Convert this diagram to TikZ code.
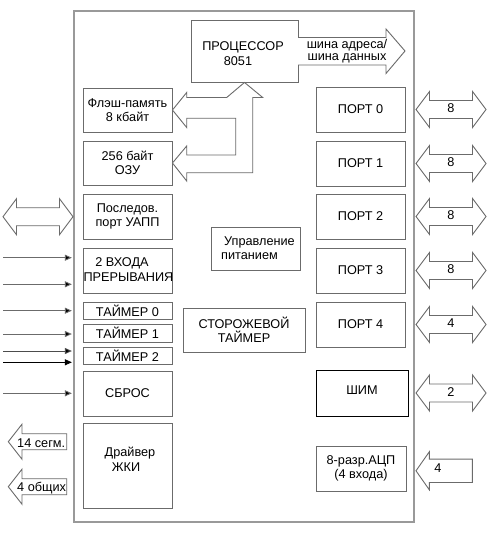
\documentclass[tikz,border=0pt]{standalone}
\usepackage{fontspec}
\setmainfont{Liberation Sans}
\usetikzlibrary{arrows.meta}
\definecolor{edge}{gray}{0.42}
\definecolor{chipedge}{gray}{0.6}
\tikzset{
  txt/.style={font=\fontsize{12.7}{14.5}\selectfont, inner sep=0pt, align=center},
  box/.style={txt, draw=edge, line width=0.9pt, fill=white},
  fat/.style={draw=edge, line width=0.9pt, fill=white, line join=miter},
  inline/.style={draw=edge, line width=0.9pt, -{Triangle[length=7pt,width=6pt,fill=black]}, shorten >=1.5pt},
  dblarrow/.pic={\draw[fat] (-35,0) -- (-21.5,-18) -- (-21.5,-9) -- (21.5,-9) -- (21.5,-18) -- (35,0) -- (21.5,18) -- (21.5,9) -- (-21.5,9) -- (-21.5,18) -- cycle;}
}
\begin{document}
\begin{tikzpicture}[x=1pt,y=-1pt]
\useasboundingbox (0,0) rectangle (491,556);
% chip outline
\node[box, draw=chipedge, line width=1.3pt, minimum width=340, minimum height=511] (chip) at (244,266.5) {};
% processor
\node[box, minimum width=107, minimum height=62] (proc) at (244.5,51) {};
\node[txt] (proctxt) at (243,53.5) {ПРОЦЕССОР\\8051\hspace*{10pt}};
% address/data bus
\coordinate (busS) at (298,37.5);
\draw[fat] (busS) -- ++(88,0) -- ++(0,-8.5) -- ++(19,22) -- ++(-19,22.5) -- ++(0,-8.5) -- ++(-88,0);
\node[txt, font=\fontsize{12.7}{12.5}\selectfont] (bustxt) at (347,51) {шина адреса/\\шина данных};
% memory boxes
\node[box, minimum width=89, minimum height=44] (flash) at (127.5,110) {Флэш-память\\8 кбайт};
\node[box, minimum width=89, minimum height=44] (ram) at (127.5,163) {256 байт\\ОЗУ};
% internal memory bus
\draw[fat] (proc.south) -- (262.7,97.5) -- (252.7,97.5) -- (252.7,172.7) -- (186.7,172.7) -- (186.7,181) -- (ram.east) -- (186.7,146) -- (186.7,155) -- (235.7,155) -- (235.7,118.3) -- (186.7,118.3) -- (186.7,127.5) -- (flash.east) -- (186.7,92.5) -- (186.7,97.5) -- (226.7,97.5) -- cycle;
% left column
\node[box, minimum width=89, minimum height=45] (uart) at (127.5,216.5) {Последов.\\порт УАПП};
\node[box, minimum width=89, minimum height=45] (irq) at (127.5,270.5) {};
\node[txt] (irqtxt) at (128.5,269.5) {2 ВХОДА\hspace*{13pt}\\ПРЕРЫВАНИЯ};
\node[box, minimum width=89, minimum height=17] (t0) at (127.5,310.5) {ТАЙМЕР 0};
\node[box, minimum width=89, minimum height=18] (t1) at (127.5,333) {ТАЙМЕР 1};
\node[box, minimum width=89, minimum height=17] (t2) at (127.5,355.5) {ТАЙМЕР 2};
\node[box, minimum width=89, minimum height=45] (reset) at (127.5,393.5) {СБРОС};
\node[box, minimum width=89, minimum height=85] (lcd) at (127.5,465.5) {};
\node[txt] (lcdtxt) at (130,459.5) {Драйвер\\ЖКИ\hspace*{8pt}};
% centre
\node[box, minimum width=89, minimum height=43] (pwr) at (255.5,248.5) {};
\node[txt] (pwrtxt) at (259.5,248) {Управление\\питанием\hspace*{20pt}};
\node[box, minimum width=122, minimum height=44] (wdt) at (244,330) {СТОРОЖЕВОЙ\\ТАЙМЕР};
% right column
\node[box, minimum width=89, minimum height=45] (p0) at (360.5,109.5) {ПОРТ 0};
\node[box, minimum width=89, minimum height=45] (p1) at (360.5,163.5) {ПОРТ 1};
\node[box, minimum width=89, minimum height=45] (p2) at (360.5,216.5) {ПОРТ 2};
\node[box, minimum width=89, minimum height=45] (p3) at (360.5,270.5) {ПОРТ 3};
\node[box, minimum width=89, minimum height=45] (p4) at (360.5,324.5) {ПОРТ 4};
\node[box, draw=black, minimum width=92, minimum height=46] (pwm) at (362,393) {};
\node[txt] (pwmtxt) at (362,390.5) {ШИМ};
\node[box, minimum width=90, minimum height=45] (adc) at (361,468.5) {8-разр.АЦП\\(4 входа)};
% port arrows
\pic (a0) at (451,109.5) {dblarrow};
\pic (a1) at (451,163.5) {dblarrow};
\pic (a2) at (451,216.5) {dblarrow};
\pic (a3) at (451,270.5) {dblarrow};
\pic (a4) at (451,324.5) {dblarrow};
\pic (a5) at (451,393) {dblarrow};
\pic (au) at (38,216.7) {dblarrow};
\node[txt] (l0) at (451,108) {8};
\node[txt] (l1) at (451,162) {8};
\node[txt] (l2) at (451,215) {8};
\node[txt] (l3) at (451,269) {8};
\node[txt] (l4) at (451,323) {4};
\node[txt] (l5) at (451,392) {2};
% ADC input arrow
\coordinate (adcTip) at (416,470.8);
\draw[fat] (adcTip) -- ++(13.3,-19) -- ++(0,7.3) -- ++(43,0) -- ++(0,23.4) -- ++(-43,0) -- ++(0,7.3) -- cycle;
\node[txt] (l6) at (438,468.5) {4};
% LCD output arrows
\coordinate (segTip) at (8.3,441.7);
\draw[fat] (segTip) -- ++(13.7,-17.5) -- ++(0,9.5) -- ++(44.7,0) -- ++(0,16) -- ++(-44.7,0) -- ++(0,9.5) -- cycle;
\node[txt, anchor=west] (segtxt) at (17,443) {14 сегм.};
\coordinate (comTip) at (8.3,486.7);
\draw[fat] (comTip) -- ++(13.7,-17.5) -- ++(0,9.5) -- ++(44.7,0) -- ++(0,16) -- ++(-44.7,0) -- ++(0,9.5) -- cycle;
\node[txt, anchor=west] (comtxt) at (17,488) {4 общих};
% input lines
\coordinate (i1) at (3,257.7);
\coordinate (i2) at (3,284.3);
\coordinate (i3) at (3,310.7);
\coordinate (i4) at (3,334);
\coordinate (i5) at (3,351);
\coordinate (i6) at (3,362.3);
\coordinate (i7) at (3,393.3);
\draw[inline] (i1) -- (i1 -| chip.west);
\draw[inline] (i2) -- (i2 -| chip.west);
\draw[inline] (i3) -- (i3 -| chip.west);
\draw[inline] (i4) -- (i4 -| chip.west);
\draw[inline, draw=black!70] (i5) -- (i5 -| chip.west);
\draw[inline, draw=black] (i6) -- (i6 -| chip.west);
\draw[inline] (i7) -- (i7 -| chip.west);
\end{tikzpicture}
\end{document}
